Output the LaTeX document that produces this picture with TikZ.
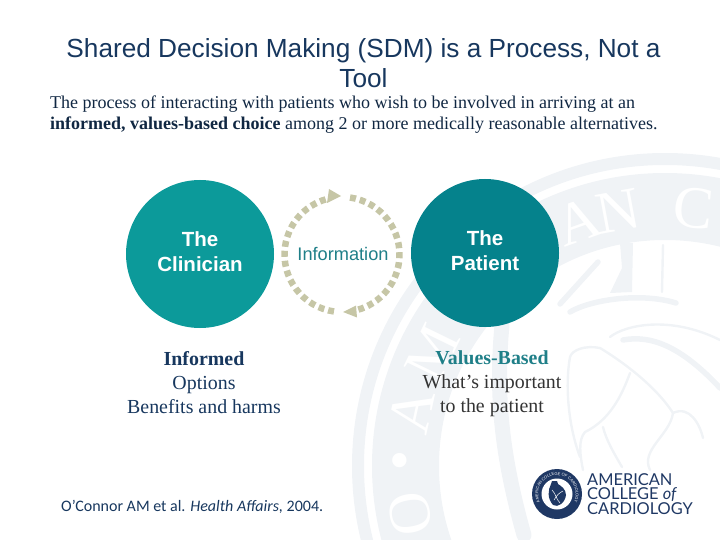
\documentclass[tikz,border=0pt]{standalone}
\usepackage{fontspec}
\setmainfont{Liberation Serif}
\setsansfont{Liberation Sans}
\newfontfamily\logofont{Lato}
\newfontfamily\citefont{Carlito}
\usetikzlibrary{decorations.text}
\definecolor{navy}{HTML}{17375E}
\definecolor{logonavy}{HTML}{1F3864}
\definecolor{tealA}{HTML}{0C9A9A}
\definecolor{tealB}{HTML}{05828C}
\definecolor{tealT}{HTML}{1F7F88}
\definecolor{khaki}{HTML}{C6C6A6}
\definecolor{pale}{HTML}{F0F3F6}
\definecolor{ink}{HTML}{333333}
\tikzset{
  bigcircle/.style={circle,minimum size=148pt,inner sep=0pt},
  circlelabel/.style={inner sep=0pt,text=white,align=center,
    font=\sffamily\bfseries\fontsize{20.5}{25}\selectfont},
  dashring/.style={draw=khaki,line width=6.5pt,dash pattern=on 6pt off 4pt},
  headtip/.style={fill=khaki,draw=none},
  bodytext/.style={inner sep=0pt,anchor=west,text=navy!70!black,font=\fontsize{18}{20}\selectfont},
  captext/.style={inner sep=0pt,align=center,font=\fontsize{19.9}{24}\selectfont},
  sealtext/.style={text=white,font=\fontsize{60}{60}\selectfont,inner sep=0pt},
  sealline/.style={draw=pale,line width=2.4pt,fill=none,line cap=round},
  sealthick/.style={draw=pale,line width=5.5pt,fill=none,line cap=round},
  logotext/.style={inner sep=0pt,anchor=west,text=logonavy,font=\logofont\fontsize{16.4}{16.4}\selectfont}
}
\begin{document}
\begin{tikzpicture}[x=1pt,y=-1pt]
\useasboundingbox (0,0) rectangle (720,540);
% background seal
\begin{scope}
\clip (0,0) rectangle (720,540);
\coordinate (sc) at (665,466);
\draw[draw=pale,line width=12pt] (sc) circle[radius=307pt];
\draw[draw=pale,line width=67pt] (sc) circle[radius=259.5pt];
\foreach \ch/\ang in {O/190.7,\textbullet/178.9,A/167.8,M/154,A/109.6,N/100.5,C/83.7}{
  \pgfmathsetmacro{\rot}{\ang-90}
  \path (sc) ++(\ang:259pt) node[sealtext,rotate=\rot] {\ch};
}
\fill[pale] (620,243) -- (633,243) -- (632,292) -- (610,293) -- (622,268) -- cycle;
\draw[sealline] (663,245) -- (662,292);
\draw[sealthick] (570,312) .. controls (590,300) and (640,292) .. (676,303);
\draw[sealthick] (560,304) -- (598,262);
\draw[sealline] (610,337) .. controls (625,325) and (670,315) .. (720,340);
\draw[sealthick] (623,340) .. controls (650,335) and (680,345) .. (720,388);
\draw[sealline] (600,348) .. controls (620,360) and (655,385) .. (673,413);
\draw[sealline] (600,348) .. controls (585,345) and (572,350) .. (570,357)
   .. controls (565,385) and (568,425) .. (580,457);
\draw[sealline] (630,373) .. controls (622,395) and (610,420) .. (585,432) .. controls (578,440) and (580,455) .. (583,470);
\draw[sealline] (673,413) .. controls (670,435) and (640,450) .. (650,470);
\draw[sealline] (673,413) .. controls (690,405) and (700,425) .. (703,438);
\draw[sealline] (603,427) .. controls (606,440) and (615,455) .. (622,467);
\draw[draw=pale,line width=15pt,line cap=round] (502,325) .. controls (496,390) and (500,450) .. (524,535);
\end{scope}
% title
\node[name=title,inner sep=0pt,align=center,text=navy,font=\sffamily\fontsize{26.2}{30}\selectfont] at (363.5,63)
  {Shared Decision Making (SDM) is a Process, Not a\\Tool};
\node[name=lineone,bodytext] at (50,104.5) {The process of interacting with patients who wish to be involved in arriving at an};
\node[name=linetwo,bodytext] at (50,125) {\textbf{informed, values-based choice} among 2 or more medically reasonable alternatives.};
% circles
\node[name=clinician,bigcircle,fill=tealA] at (200,254) {};
\node[name=patient,bigcircle,fill=tealB] at (485,253) {};
\node[name=clinlabel,circlelabel] at (200,251.5) {The\\Clinician};
\node[name=patlabel,circlelabel] at (485,250.5) {The\\Patient};
\node[name=info,inner sep=0pt,text=tealT,font=\sffamily\fontsize{18.2}{20}\selectfont] at (343,254) {Information};
% ring
\coordinate (rc) at (342,254.5);
\draw[dashring] (rc) ++(82:57.5pt) arc[start angle=82,end angle=-74,radius=57.5pt];
\draw[dashring] (rc) ++(-98:57.5pt) arc[start angle=262,end angle=106,radius=57.5pt];
\fill[headtip] (329,189) -- (341,196) -- (327,203) -- cycle;
\fill[headtip] (356,305.5) -- (343,312) -- (357,317.5) -- cycle;
% captions
\node[name=capleft,captext,text=navy] at (204,382.5) {\textbf{Informed}\\Options\\Benefits and harms};
\node[name=capright,captext,text=ink] at (492,384) {\textcolor{tealT}{\textbf{Values-Based}}\\What’s important\\to the patient};
% citation
\node[name=cite,inner sep=0pt,anchor=west,text=navy,font=\citefont\fontsize{16}{18}\selectfont] at (61,507)
  {O’Connor AM et al. \textit{Health Affairs,} 2004.};
% logo
\node[name=sealdisc,circle,minimum size=50pt,inner sep=0pt,fill=logonavy] at (557,494) {};
\node[name=sealin,circle,minimum size=31pt,inner sep=0pt,fill=white] at (557,494) {};
\path[decorate,decoration={text along path,text align=center,
   text={|\sffamily\fontsize{4}{4}\selectfont\color{white}|AMERICAN COLLEGE OF CARDIOLOGY}}]
   (557,494) ++(-130:18.8pt) arc[start angle=230,end angle=-50,radius=18.8pt];
\fill[logonavy] (551,484) .. controls (548,490) and (547,498) .. (553,505)
   .. controls (558,508) and (565,503) .. (566,495)
   .. controls (566,489) and (561,486) .. (558,484) -- (557,481) -- (552,481) -- cycle;
\draw[white,line width=.5pt] (552,490) .. controls (556,494) and (556,499) .. (560,503);
\draw[white,line width=.5pt] (563,491) .. controls (559,493) and (557,495) .. (554,500);
\node[name=logoa,logotext] at (587,479.5) {AMERICAN};
\node[name=logob,logotext] at (587,494.5) {COLLEGE \textit{of}};
\node[name=logoc,logotext] at (587,508.5) {CARDIOLOGY};
\end{tikzpicture}
\end{document}
